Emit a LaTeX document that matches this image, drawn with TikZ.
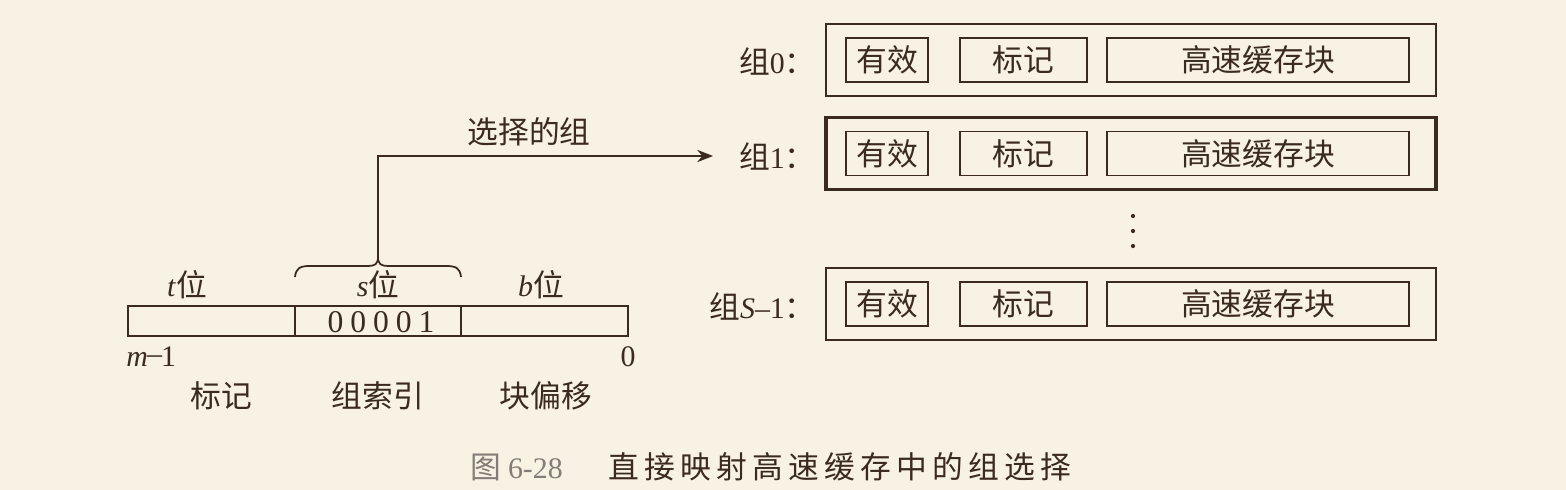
\documentclass[tikz,border=0pt]{standalone}
\usepackage{fontspec}
\setmainfont{Liberation Serif}
\newfontfamily\cjk{Noto Sans CJK SC}[Scale=1.03]
\usetikzlibrary{arrows.meta}
\definecolor{bg}{RGB}{248,242,228}
\definecolor{ink}{RGB}{58,42,32}
\definecolor{capgray}{RGB}{130,125,118}
\tikzset{
  lbl/.style={inner sep=0pt, text=ink, font=\fontsize{17}{20}\selectfont},
  outerbox/.style={draw=ink, line width=1.1pt},
  selbox/.style={draw=ink, line width=1.9pt},
  innerbox/.style={draw=ink, line width=1.1pt, inner sep=0pt, text=ink, font=\fontsize{17}{20}\selectfont\cjk},
  fieldbox/.style={draw=ink, line width=1.0pt, inner sep=0pt},
}
\begin{document}
\begin{tikzpicture}[x=0.02cm, y=-0.02cm]
\fill[bg] (0,0) rectangle (1566,490);
\useasboundingbox (0,0) rectangle (1566,490);

% address fields
\node[fieldbox, minimum width=167*0.02cm, minimum height=30*0.02cm] (ft) at (211.5,321) {};
\node[fieldbox, minimum width=166*0.02cm, minimum height=30*0.02cm] (fs) at (378,321) {};
\node[fieldbox, minimum width=167*0.02cm, minimum height=30*0.02cm] (fb) at (544.5,321) {};
\node[lbl, font=\fontsize{18}{20}\selectfont\addfontfeature{LetterSpace=22}] (bits) at (381,322) {00001};

\node[lbl] (tl) at (187,285) {\textit{t}\cjk 位};
\node[lbl] (sl) at (378,285) {\textit{s}\cjk 位};
\node[lbl] (bl) at (541,285) {\textit{b}\cjk 位};

\node[lbl, anchor=west] (mm) at (126,357) {\textit{m}\raisebox{0.25ex}{\kern-0.5pt--\kern-0.5pt}1};
\node[lbl] (zz) at (628,357) {0};

\node[lbl] (n1) at (221,396) {\cjk 标记};
\node[lbl] (n2) at (378,396) {\cjk 组索引};
\node[lbl] (n3) at (546,396) {\cjk 块偏移};

% brace
\coordinate (btip) at (378,257);
\draw[ink, line width=1.0pt] (295,277) .. controls (296,268) and (300,266) .. (310,266)
  -- (368,266) .. controls (375,266) and (378,264) .. (btip)
  .. controls (378,264) and (381,266) .. (388,266)
  -- (446,266) .. controls (456,266) and (460,268) .. (461,277);

% set labels
\node[lbl, anchor=east] (g0) at (816,61) {\cjk 组\rmfamily 0\cjk ：};
\node[lbl, anchor=east] (g1) at (816,156) {\cjk 组\rmfamily 1\cjk ：};
\node[lbl, anchor=east] (gs) at (816,306) {\cjk 组\rmfamily\textit{S}--1\cjk ：};

% arrow
\node[lbl] (sel) at (529,132) {\cjk 选择的组};
\draw[ink, line width=1.0pt, -{Stealth[length=9pt,width=7pt]}] (btip) |- (713,156) coordinate (arr);

% set boxes
\foreach \yy/\nm/\st in {60/a/outerbox, 153.5/b/selbox, 304/c/outerbox}{
  \node[\st, minimum width=610*0.02cm, minimum height=72*0.02cm, inner sep=0pt] (set\nm) at (1131,\yy) {};
  \node[innerbox, minimum width=82*0.02cm, minimum height=44*0.02cm] (v\nm) at (887,\yy) {有效};
  \node[innerbox, minimum width=127*0.02cm, minimum height=44*0.02cm] (t\nm) at (1023.5,\yy) {标记};
  \node[innerbox, minimum width=302*0.02cm, minimum height=44*0.02cm] (c\nm) at (1258,\yy) {高速缓存块};
}

% dots
\foreach \yy in {216,231,246} \fill[ink] (1133,\yy) circle (1.2pt);

% caption
\node[lbl, text=capgray, anchor=west] (cap1) at (470,467) {\cjk 图\ \rmfamily 6-28};
\node[lbl, anchor=west, font=\fontsize{17}{20}\selectfont\cjk\addfontfeature{LetterSpace=17}] (cap2) at (608,467) {直接映射高速缓存中的组选择};
\end{tikzpicture}
\end{document}
